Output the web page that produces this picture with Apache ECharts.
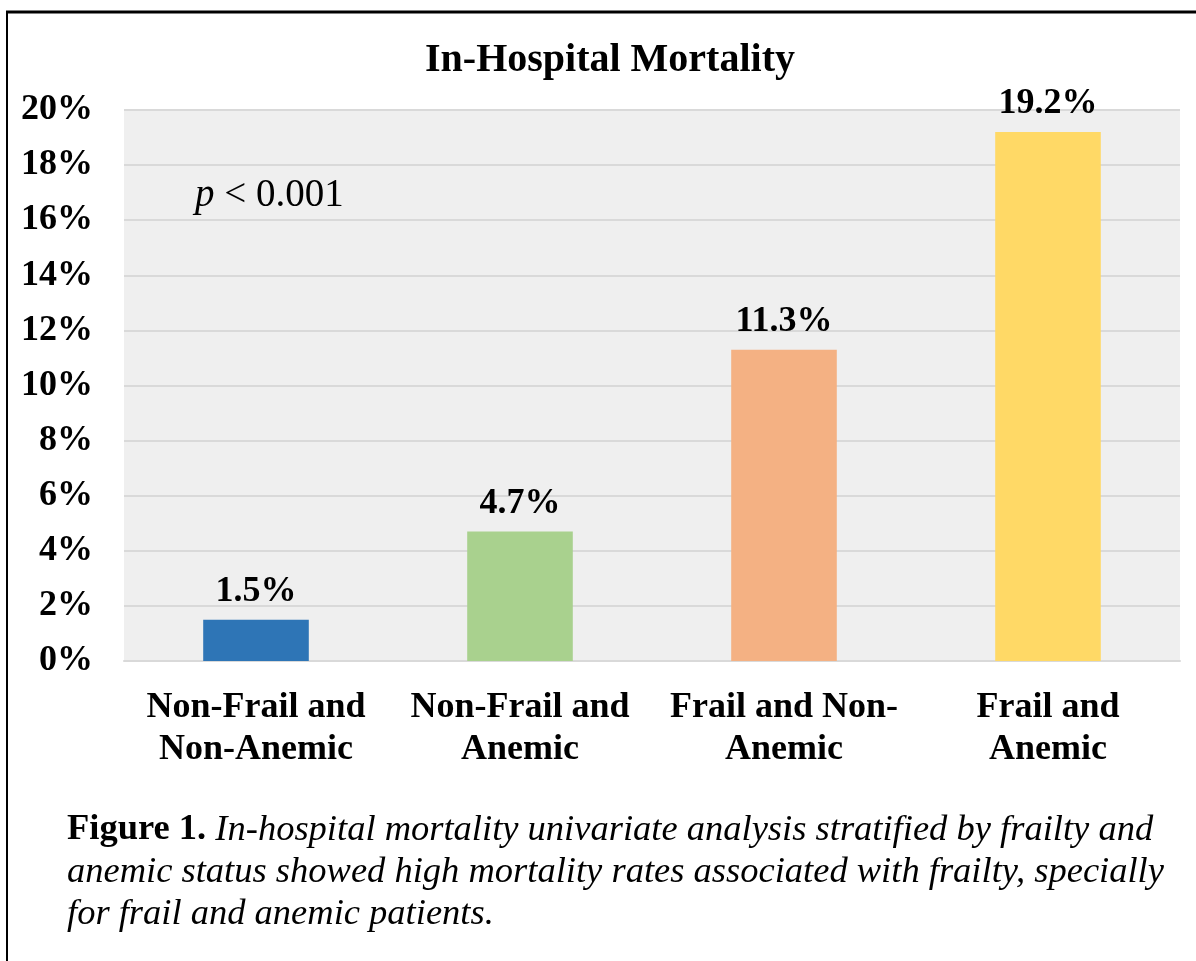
<!DOCTYPE html>
<html>
<head>
<meta charset="utf-8">
<script src="https://cdn.jsdelivr.net/npm/echarts@6/dist/echarts.min.js"></script>
<style>
	html, body { margin: 0; padding: 0; background: #fff; }
	#chart { width: 1196px; height: 961px; }
</style>
</head>
<body>
<div id="chart"></div>
<script>
var groups = ['Non-Frail and\nNon-Anemic', 'Non-Frail and\nAnemic', 'Frail and Non-\nAnemic', 'Frail and\nAnemic'];
var mortality = [1.5, 4.7, 11.3, 19.2];
var barColors = ['#2E75B6', '#A9D18E', '#F4B183', '#FFD966'];
var yTicks = [0, 2, 4, 6, 8, 10, 12, 14, 16, 18, 20];

var serif = "'Liberation Serif', 'Times New Roman', serif";

var chart = echarts.init(document.getElementById('chart'));

var option = {
	backgroundColor: '#fff',
	animation: false,
	title: [{
		text: 'In-Hospital Mortality',
		left: 420,
		top: 36,
		textStyle: {
			fontFamily: serif,
			fontSize: 40,
			fontWeight: 'bold',
			color: '#000'
		}
	}, {
		text: '{i|p}{n| < 0.001}',
		left: 190,
		top: 171,
		textStyle: {
			fontWeight: 'normal',
			rich: {
				i: { fontFamily: serif, fontSize: 39, fontStyle: 'italic', fontWeight: 'normal', color: '#000' },
				n: { fontFamily: serif, fontSize: 39, fontWeight: 'normal', color: '#000' }
			}
		}
	}, {
		text: '{b|Figure 1.}{i| In-hospital mortality univariate analysis stratified by frailty and}\n' +
			'{i|anemic status showed high mortality rates associated with frailty, specially}\n' +
			'{i|for frail and anemic patients.}',
		left: 62,
		top: 804,
		textStyle: {
			fontWeight: 'normal',
			lineHeight: 42,
			rich: {
				b: { fontFamily: serif, fontSize: 36.5, fontWeight: 'bold', color: '#000', lineHeight: 42 },
				i: { fontFamily: serif, fontSize: 36.5, fontStyle: 'italic', fontWeight: 'normal', color: '#000', lineHeight: 42 }
			}
		}
	}],
	grid: {
		left: 124,
		right: 16,
		top: 110,
		bottom: 300,
		show: true,
		backgroundColor: '#efefef',
		borderWidth: 0
	},
	xAxis: {
		type: 'category',
		data: groups,
		axisTick: { show: false },
		axisLine: { lineStyle: { color: '#d9d9d9', width: 2 } },
		axisLabel: {
			interval: 0,
			margin: 26,
			lineHeight: 42,
			fontFamily: serif,
			fontSize: 36,
			fontWeight: 'bold',
			color: '#000'
		}
	},
	yAxis: {
		type: 'value',
		min: yTicks[0],
		max: yTicks[yTicks.length - 1],
		interval: 2,
		axisLine: { show: false },
		axisTick: { show: false },
		splitLine: { lineStyle: { color: '#d9d9d9', width: 2 } },
		axisLabel: {
			margin: 31,
			fontFamily: serif,
			fontSize: 36,
			fontWeight: 'bold',
			color: '#000',
			formatter: function(v) { return v + '%'; }
		}
	},
	series: [{
		type: 'bar',
		barWidth: '40%',
		data: mortality.map(function(v, i) {
			return { value: v, itemStyle: { color: barColors[i] } };
		}),
		label: {
			show: true,
			position: 'top',
			distance: 10,
			fontFamily: serif,
			fontSize: 36,
			fontWeight: 'bold',
			color: '#000',
			formatter: function(p) { return p.value.toFixed(1) + '%'; }
		}
	}],
	graphic: [{
		type: 'line',
		shape: { x1: 7, y1: 12, x2: 7, y2: 961 },
		style: { stroke: '#000', lineWidth: 2 }
	}, {
		type: 'line',
		shape: { x1: 6, y1: 12, x2: 1196, y2: 12 },
		style: { stroke: '#000', lineWidth: 3 }
	}]
};

chart.setOption(option);
</script>
</body>
</html>
